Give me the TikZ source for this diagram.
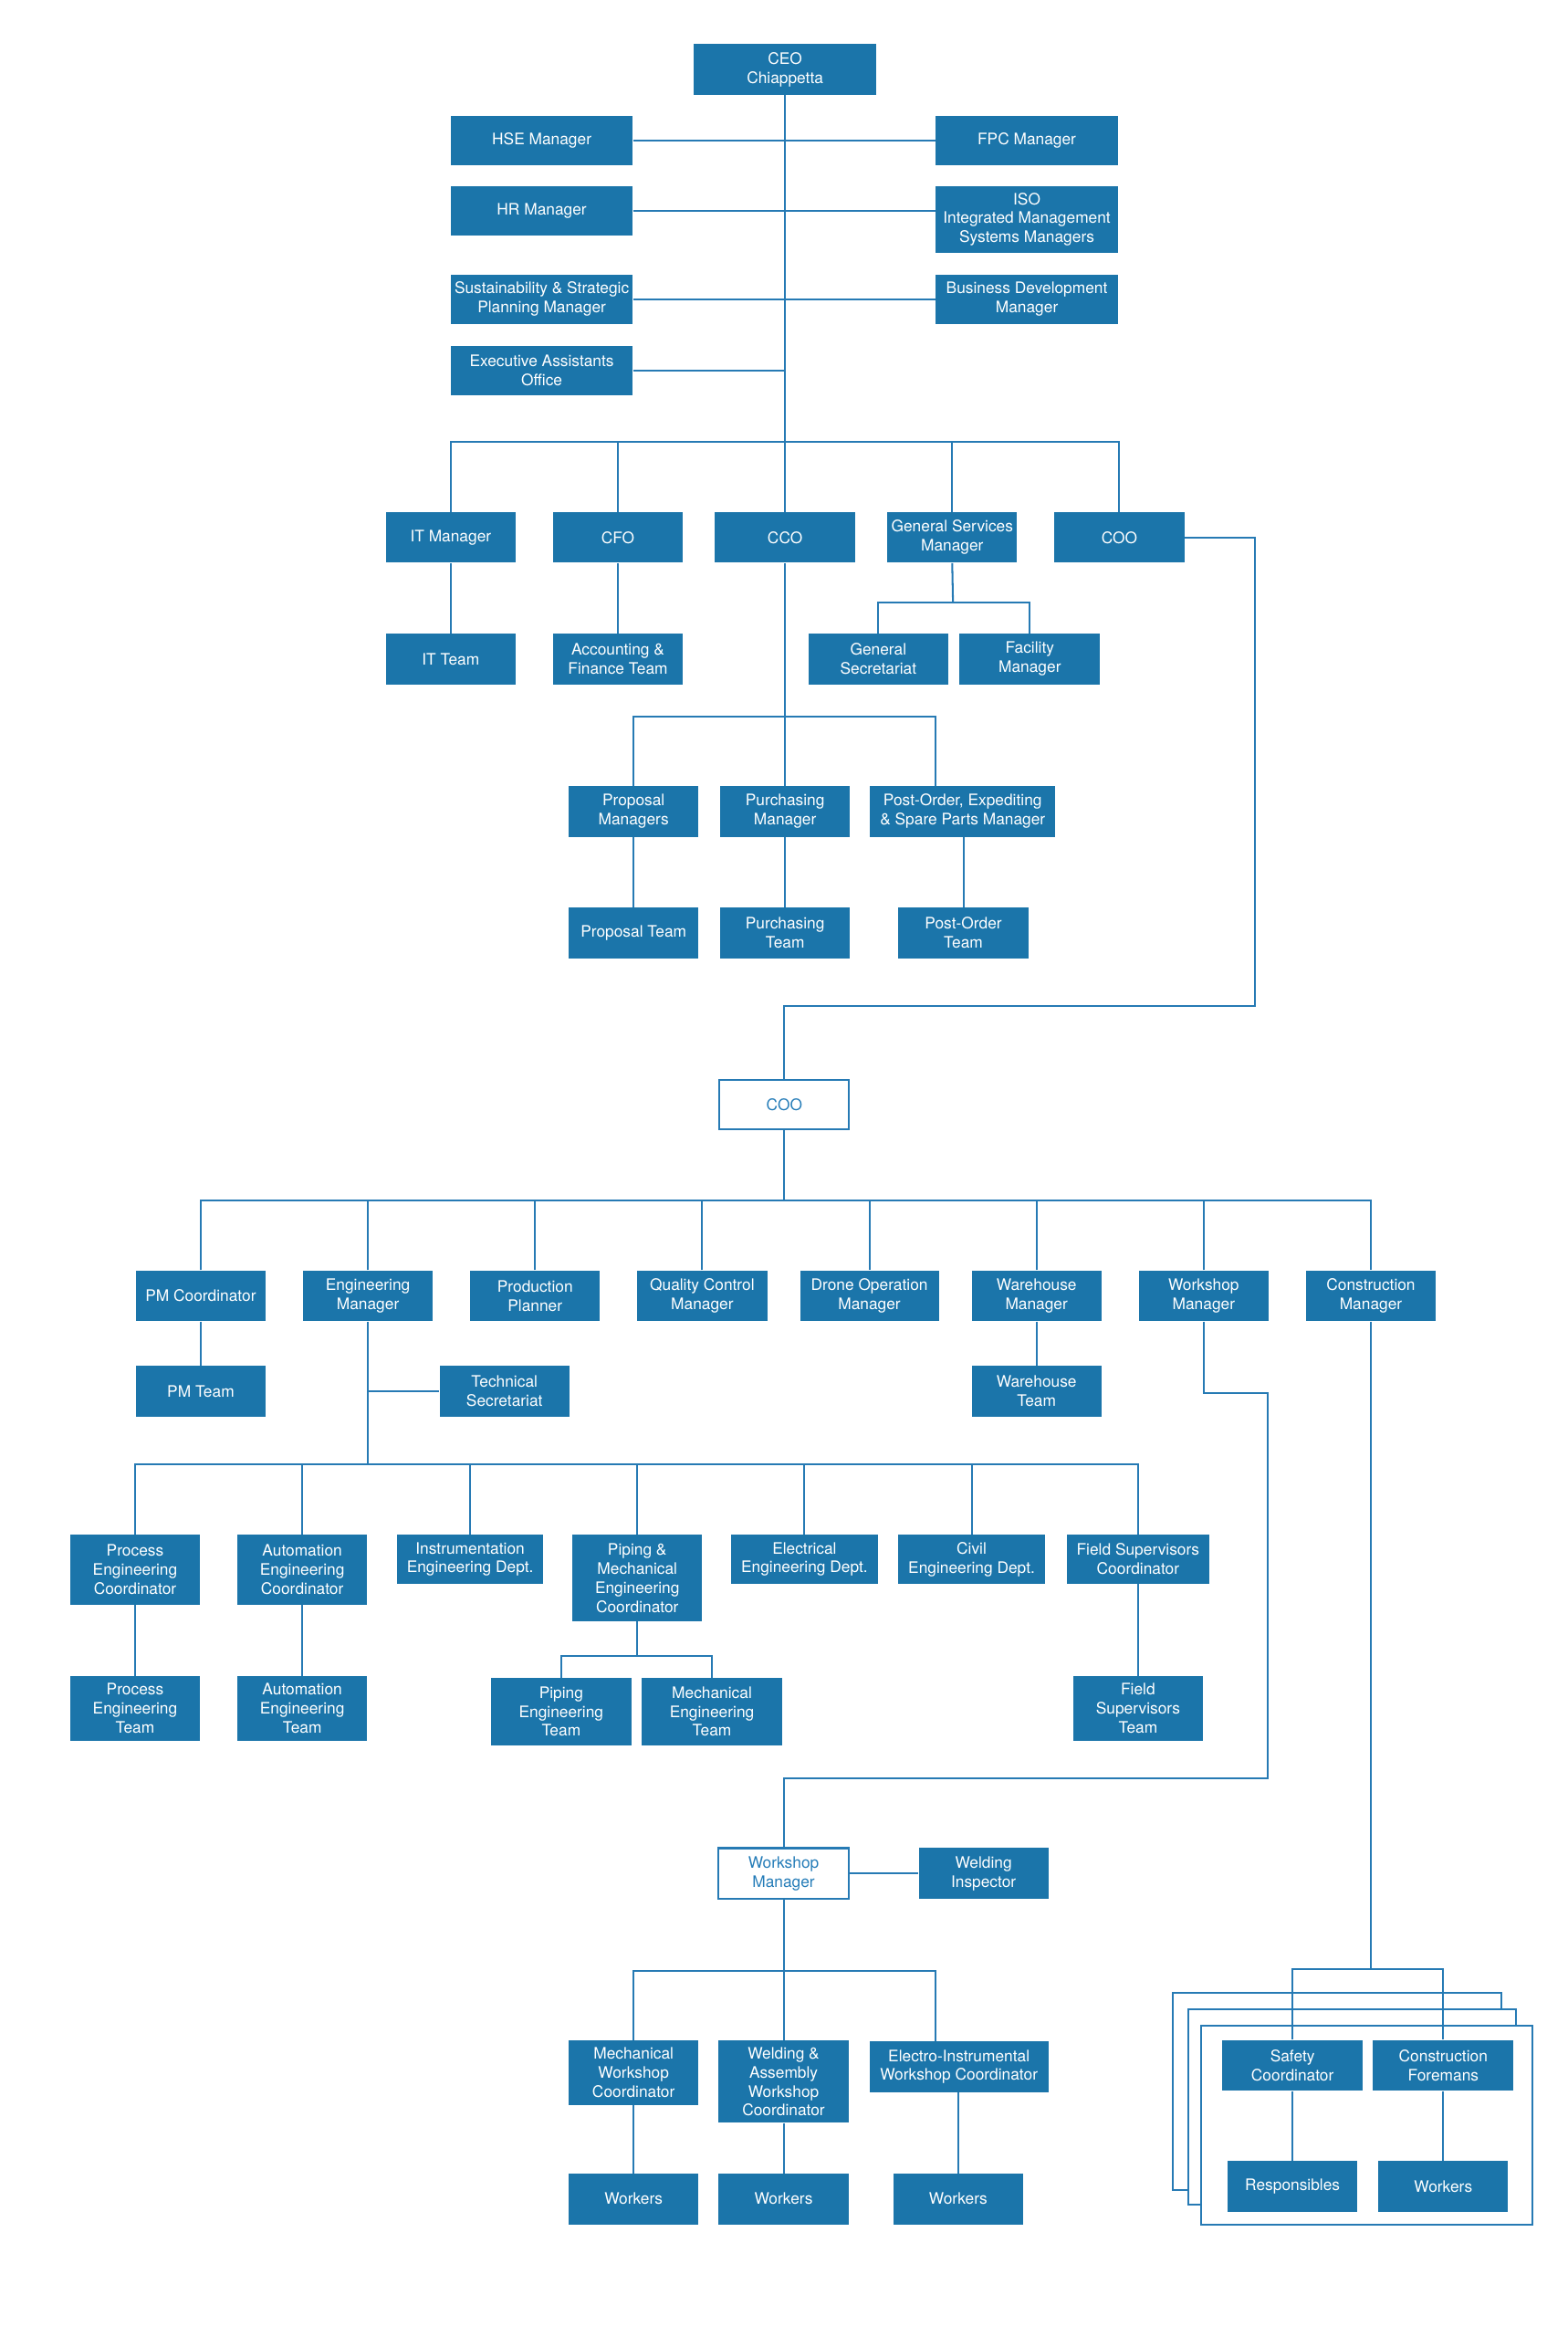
\documentclass[tikz,border=0pt]{standalone}
\usepackage{fontspec}
\setmainfont{TeX Gyre Heros}
\definecolor{boxblue}{RGB}{27,117,170}
\definecolor{lineblue}{RGB}{38,122,180}
\definecolor{txtblue}{RGB}{36,124,184}
\begin{document}
\begin{tikzpicture}[x=1pt,y=-1pt,
  bx/.style={fill=boxblue,draw=none,text=white,inner sep=0pt,align=center,
    font=\fontsize{10.6}{12.8}\selectfont,minimum width=87pt,minimum height=34pt},
  wbx/.style={fill=white,draw=lineblue,line width=1.25pt,text=txtblue,inner sep=0pt,align=center,
    font=\fontsize{10.6}{12.8}\selectfont,minimum width=87pt,minimum height=33pt},
  wide/.style={minimum width=122pt},
  ln/.style={draw=lineblue,line width=1.25pt},
  frame/.style={draw=lineblue,line width=1.25pt,fill=white}]
\useasboundingbox (0,0) rectangle (1050,1565.5);

% stacked frames (construction)
\draw[frame] (786,1335) rectangle (1006,1467);
\draw[frame] (796,1346) rectangle (1016,1477);
\draw[frame] (805,1357) rectangle (1027,1490);

% ---- top level
\node[bx,wide] (ceo) at (526,46.5) {CEO\\Chiappetta};
\node[bx,wide,minimum height=33pt] (hse) at (363,94) {HSE Manager};
\node[bx,wide,minimum height=33pt] (fpc) at (688,94) {FPC Manager};
\node[bx,wide,minimum height=33pt] (hr) at (363,141.5) {HR Manager};
\node[bx,wide,minimum height=45pt] (iso) at (688,147) {ISO\\Integrated Management\\Systems Managers};
\node[bx,wide,minimum height=33pt] (sus) at (363,200.5) {Sustainability \& Strategic\\Planning Manager};
\node[bx,wide,minimum height=33pt] (bd) at (688,200.5) {Business Development\\Manager};
\node[bx,wide,minimum height=33pt] (exa) at (363,248) {Executive Assistants\\Office};

% ---- level 2
\node[bx] (itm) at (302,360) {IT Manager};
\node[bx] (cfo) at (414,360) {CFO};
\node[bx,minimum width=94pt] (cco) at (526,360) {CCO};
\node[bx] (gsm) at (638,360) {General Services\\Manager};
\node[bx] (coo) at (750,360) {COO};
\node[bx] (itt) at (302,441.5) {IT Team};
\node[bx] (aft) at (414,441.5) {Accounting \&\\Finance Team};
\node[bx,minimum width=94pt] (gsec) at (588.5,441.5) {General\\Secretariat};
\node[bx,minimum width=94pt] (fac) at (690,441.5) {Facility\\Manager};
\node[bx] (propm) at (424.5,543.5) {Proposal\\Managers};
\node[bx] (purm) at (526,543.5) {Purchasing\\Manager};
\node[bx,minimum width=124pt] (postm) at (645,543.5) {Post-Order, Expediting\\\& Spare Parts Manager};
\node[bx] (propt) at (424.5,625) {Proposal Team};
\node[bx] (purt) at (526,625) {Purchasing\\Team};
\node[bx] (postt) at (645.5,625) {Post-Order\\Team};

% ---- COO section
\node[wbx] (coo2) at (525.5,740) {COO};
\node[bx] (pmc) at (134.5,868) {PM Coordinator};
\node[bx] (engm) at (246.5,868) {Engineering\\Manager};
\node[bx] (prodp) at (358.5,868) {Production\\Planner};
\node[bx] (qcm) at (470.5,868) {Quality Control\\Manager};
\node[bx,minimum width=93pt] (dom) at (582.5,868) {Drone Operation\\Manager};
\node[bx] (whm) at (694.5,868) {Warehouse\\Manager};
\node[bx] (wsm) at (806.5,868) {Workshop\\Manager};
\node[bx] (conm) at (918.5,868) {Construction\\Manager};
\node[bx] (pmt) at (134.5,932) {PM Team};
\node[bx] (tsec) at (338,932) {Technical\\Secretariat};
\node[bx] (wht) at (694.5,932) {Warehouse\\Team};

\node[bx,minimum height=47pt] (pec) at (90.5,1051.5) {Process\\Engineering\\Coordinator};
\node[bx,minimum height=47pt] (aec) at (202.5,1051.5) {Automation\\Engineering\\Coordinator};
\node[bx,minimum width=98pt,minimum height=33pt] (ied) at (315,1044.5) {Instrumentation\\Engineering Dept.};
\node[bx,minimum height=58pt] (pmec) at (427,1057) {Piping \&\\Mechanical\\Engineering\\Coordinator};
\node[bx,minimum width=98pt,minimum height=33pt] (eed) at (539,1044.5) {Electrical\\Engineering Dept.};
\node[bx,minimum width=98pt,minimum height=33pt] (ced) at (651,1044.5) {Civil\\Engineering Dept.};
\node[bx,minimum width=95pt,minimum height=33pt] (fsc) at (762.5,1044.5) {Field Supervisors\\Coordinator};
\node[bx,minimum height=43pt] (pet) at (90.5,1144.5) {Process\\Engineering\\Team};
\node[bx,minimum height=43pt] (aet) at (202.5,1144.5) {Automation\\Engineering\\Team};
\node[bx,minimum width=94pt,minimum height=45pt] (pipt) at (376,1146.5) {Piping\\Engineering\\Team};
\node[bx,minimum width=94pt,minimum height=45pt] (met) at (477,1146.5) {Mechanical\\Engineering\\Team};
\node[bx,minimum height=43pt] (fst) at (762.5,1144.5) {Field\\Supervisors\\Team};

% ---- Workshop section
\node[wbx,minimum height=34pt] (wsm2) at (525,1255) {Workshop\\Manager};
\node[bx] (weld) at (659,1255) {Welding\\Inspector};
\node[bx,minimum height=43pt] (mwc) at (424.5,1388.5) {Mechanical\\Workshop\\Coordinator};
\node[bx,minimum height=55pt] (wac) at (525,1394.5) {Welding \&\\Assembly\\Workshop\\Coordinator};
\node[bx,minimum width=120pt] (eiwc) at (642.5,1384.5) {Electro-Instrumental\\Workshop Coordinator};
\node[bx] (wk1) at (424.5,1473) {Workers};
\node[bx] (wk2) at (525,1473) {Workers};
\node[bx] (wk3) at (642,1473) {Workers};

% ---- Construction section
\node[bx,minimum width=94pt] (saf) at (866,1383.5) {Safety\\Coordinator};
\node[bx,minimum width=94pt] (cfm) at (967,1383.5) {Construction\\Foremans};
\node[bx] (resp) at (866,1464.5) {Responsibles};
\node[bx] (wk4) at (967,1464.5) {Workers};

% ================= connectors
\coordinate (b1) at (526,296);
\draw[ln] (ceo.south) -- (b1);
\draw[ln] (hse.east) -- (fpc.west);
\draw[ln] (hr.east) -- (hr.east -| iso.west);
\draw[ln] (sus.east) -- (bd.west);
\draw[ln] (exa.east) -- (exa.east -| ceo.south);
\draw[ln] (itm.north) |- (b1) -| (coo.north);
\draw[ln] (cfo.north) -- (cfo.north |- b1);
\draw[ln] (cco.north) -- (cco.north |- b1);
\draw[ln] (gsm.north) -- (gsm.north |- b1);
\draw[ln] (itm.south) -- (itt.north);
\draw[ln] (cfo.south) -- (aft.north);
\coordinate (b2) at (638.5,403.5);
\draw[ln] (gsm.south) -- (b2);
\draw[ln] (gsec.north) |- (b2) -| (fac.north);
\coordinate (b3) at (526,480);
\coordinate (b3r) at (627,480);
\draw[ln] (cco.south) -- (b3);
\draw[ln] (propm.north) |- (b3) -- (b3r) -- (b3r |- postm.north);
\draw[ln] (purm.north) -- (b3);
\draw[ln] (propm.south) -- (propt.north);
\draw[ln] (purm.south) -- (purt.north);
\draw[ln] (postm.south -| postt.north) -- (postt.north);
% COO link
\draw[ln] (coo.east) -| (841,674) -| (coo2.north);
% COO tree
\coordinate (b4) at (525.5,804);
\draw[ln] (coo2.south) -- (b4);
\draw[ln] (pmc.north) |- (b4) -| (conm.north);
\foreach \n in {engm,prodp,qcm,dom,whm,wsm} \draw[ln] (\n.north) -- (\n.north |- b4);
\draw[ln] (pmc.south) -- (pmt.north);
\draw[ln] (whm.south) -- (wht.north);
\coordinate (b5) at (246.5,981);
\draw[ln] (engm.south) -- (b5);
\draw[ln] (engm.south |- tsec.west) -- (tsec.west);
\draw[ln] (pec.north) |- (b5) -| (fsc.north);
\foreach \n in {aec,ied,pmec,eed,ced} \draw[ln] (\n.north) -- (\n.north |- b5);
\draw[ln] (pec.south) -- (pet.north);
\draw[ln] (aec.south) -- (aet.north);
\draw[ln] (fsc.south) -- (fst.north);
\coordinate (b6) at (427,1109);
\draw[ln] (pmec.south) -- (b6);
\draw[ln] (pipt.north) |- (b6) -| (met.north);
% Workshop link
\draw[ln] (wsm.south) |- (849.5,933) |- (525,1191.5) -- (wsm2.north);
\draw[ln] (wsm2.east) -- (weld.west);
\coordinate (b7) at (525,1320);
\coordinate (b7r) at (627,1320);
\draw[ln] (wsm2.south) -- (b7);
\draw[ln] (mwc.north) |- (b7) -- (b7r) -- (b7r |- eiwc.north);
\draw[ln] (wac.north) -- (b7);
\draw[ln] (mwc.south) -- (wk1.north);
\draw[ln] (wac.south) -- (wk2.north);
\draw[ln] (eiwc.south -| wk3.north) -- (wk3.north);
% Construction
\coordinate (b8) at (918.5,1319);
\draw[ln] (conm.south) -- (b8);
\draw[ln] (saf.north) |- (b8) -| (cfm.north);
\draw[ln] (saf.south) -- (resp.north);
\draw[ln] (cfm.south) -- (wk4.north);
\end{tikzpicture}
\end{document}
